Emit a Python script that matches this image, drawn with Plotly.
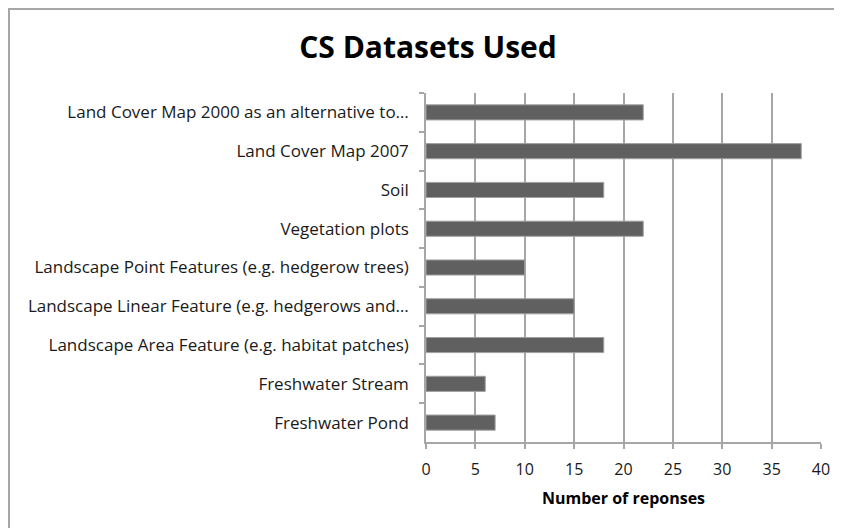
import plotly.graph_objects as go

categories = [
    "Land Cover Map 2000 as an alternative to…",
    "Land Cover Map 2007",
    "Soil",
    "Vegetation plots",
    "Landscape Point Features (e.g. hedgerow trees)",
    "Landscape Linear Feature (e.g. hedgerows and…",
    "Landscape Area Feature (e.g. habitat patches)",
    "Freshwater Stream",
    "Freshwater Pond",
]
responses = [22, 38, 18, 22, 10, 15, 18, 6, 7]
x_ticks = [0, 5, 10, 15, 20, 25, 30, 35, 40]

# page body has an 8px margin, so the figure is drawn at (8, 8)
OFF = 8
W, H = 842 - OFF, 528 - OFF
L, R, T, B = 426 - OFF, 21, 93 - OFF, 86
pw, ph = W - L - R, H - T - B

def px_to_paper_x(px):
    return (px - OFF - L) / pw

def px_to_paper_y(py):
    return (H - B - (py - OFF)) / ph

FONT = "Open Sans"
GRID = "#a6a6a6"

fig = go.Figure(
    go.Bar(
        x=responses,
        y=categories,
        orientation="h",
        width=0.39,
        marker=dict(color="#606060", line=dict(color="#a0a0a0", width=1)),
    )
)

fig.update_layout(
    width=W,
    height=H,
    margin=dict(l=L, r=R, t=T, b=B),
    paper_bgcolor="white",
    plot_bgcolor="white",
    showlegend=False,
    font=dict(family=FONT, size=16, color="#1a1a1a"),
    title=dict(
        text="<b>CS Datasets Used</b>",
        x=(428 - OFF) / W,
        xref="container",
        xanchor="center",
        y=1 - (47 - OFF) / H,
        yref="container",
        yanchor="middle",
        font=dict(family=FONT, size=30, color="#000000"),
    ),
    xaxis=dict(
        range=[0, 40],
        tickvals=x_ticks,
        ticktext=[str(v) for v in x_ticks],
        showgrid=True,
        gridcolor=GRID,
        gridwidth=1.5,
        zeroline=False,
        showline=True,
        linecolor=GRID,
        linewidth=1.5,
        ticks="outside",
        ticklen=5,
        tickcolor=GRID,
        tickwidth=1.5,
        ticklabelstandoff=7,
        automargin=False,
        tickfont=dict(family=FONT, size=16, color="#1a1a1a"),
        title=dict(
            text="<b>Number of reponses</b>",
            font=dict(family=FONT, size=16, color="#000000"),
            standoff=14,
        ),
        fixedrange=True,
    ),
    yaxis=dict(
        autorange="reversed",
        showgrid=False,
        zeroline=False,
        showline=True,
        linecolor=GRID,
        linewidth=1.5,
        ticks="outside",
        tickson="boundaries",
        ticklen=5,
        tickcolor=GRID,
        tickwidth=1.5,
        ticklabelstandoff=12,
        automargin=False,
        tickfont=dict(family=FONT, size=17, color="#1a1a1a"),
        fixedrange=True,
    ),
    shapes=[
        dict(
            type="line", xref="paper", yref="paper",
            x0=px_to_paper_x(9), x1=px_to_paper_x(9),
            y0=px_to_paper_y(9), y1=px_to_paper_y(540),
            line=dict(color="#a6a6a6", width=2),
        ),
        dict(
            type="line", xref="paper", yref="paper",
            x0=px_to_paper_x(8), x1=px_to_paper_x(850),
            y0=px_to_paper_y(9), y1=px_to_paper_y(9),
            line=dict(color="#a6a6a6", width=2),
        ),
    ],
)

fig.write_html("out.html")
